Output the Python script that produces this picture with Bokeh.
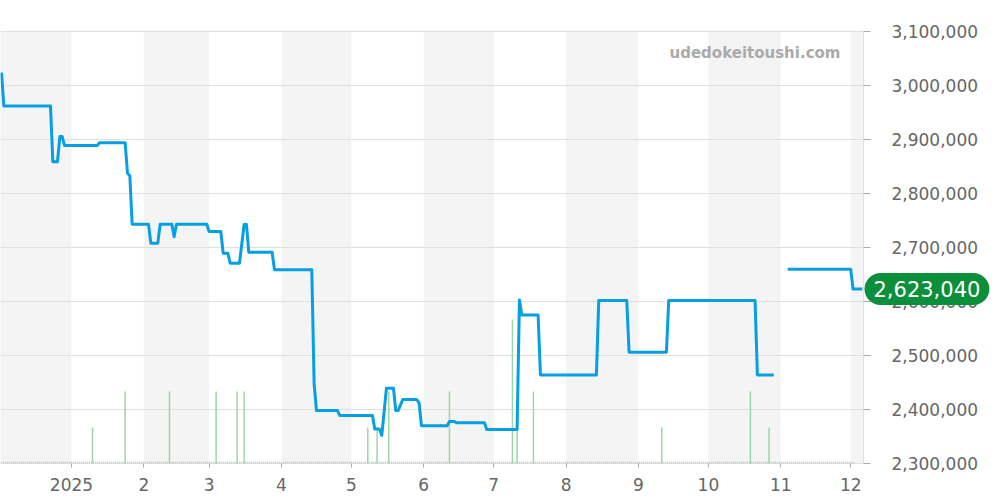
import pandas as pd
from bokeh.plotting import figure
from bokeh.models import Range1d, FixedTicker, NumeralTickFormatter, BoxAnnotation, Label, ColumnDataSource
from bokeh.embed import file_html
from bokeh.resources import INLINE

# ---------------- data ----------------
price_dates = [
    "2024-12-02", "2024-12-03", "2024-12-23", "2024-12-24", "2024-12-26", "2024-12-27",
    "2024-12-28", "2024-12-29", "2025-01-12", "2025-01-13", "2025-01-24", "2025-01-25",
    "2025-01-26", "2025-01-27", "2025-02-03", "2025-02-04", "2025-02-07", "2025-02-08",
    "2025-02-13", "2025-02-14", "2025-02-15", "2025-02-28", "2025-03-01", "2025-03-06",
    "2025-03-07", "2025-03-09", "2025-03-10", "2025-03-14", "2025-03-16", "2025-03-17",
    "2025-03-18", "2025-03-28", "2025-03-29", "2025-04-14", "2025-04-15", "2025-04-16",
    "2025-04-25", "2025-04-26", "2025-05-10", "2025-05-11", "2025-05-13", "2025-05-14",
    "2025-05-16", "2025-05-19", "2025-05-20", "2025-05-21", "2025-05-23", "2025-05-29",
    "2025-05-30", "2025-05-31", "2025-06-11", "2025-06-12", "2025-06-14", "2025-06-15",
    "2025-06-27", "2025-06-28", "2025-07-11", "2025-07-12", "2025-07-13", "2025-07-20",
    "2025-07-21", "2025-08-14", "2025-08-15", "2025-08-27", "2025-08-28", "2025-09-13",
    "2025-09-14", "2025-10-21", "2025-10-22", "2025-10-29", "2025-11-01", "2025-11-04",
    "2025-12-01", "2025-12-02", "2025-12-06",
]
price_values = [
    3024000, 2962000, 2962000, 2859000, 2859000, 2905500,
    2905500, 2889000, 2889000, 2894000, 2894000, 2837500,
    2833000, 2743000, 2743000, 2708000, 2708000, 2743000,
    2743000, 2720000, 2743000, 2743000, 2729500, 2729500,
    2689500, 2689500, 2671000, 2671000, 2742500, 2742500,
    2691000, 2691000, 2659000, 2659000, 2448000, 2398000,
    2398000, 2389000, 2389000, 2364000, 2364000, 2352000,
    2439500, 2439500, 2398000, 2398000, 2418500, 2418500,
    2412000, 2370000, 2370000, 2378000, 2378000, 2375500,
    2375500, 2363000, 2363000, 2603000, 2575000, 2575000,
    2464000, 2464000, 2602000, 2602000, 2506000, 2506000,
    2602000, 2602000, 2464000, 2464000, float("nan"), 2659500,
    2659500, 2623040, 2623040,
]

volume_dates = [
    "2025-01-10", "2025-01-24", "2025-02-12", "2025-03-04", "2025-03-13", "2025-03-16",
    "2025-05-08", "2025-05-12", "2025-05-17", "2025-06-12", "2025-07-09", "2025-07-11",
    "2025-07-18", "2025-09-11", "2025-10-19", "2025-10-27",
]
volume_values = [1, 2, 2, 2, 2, 2, 1, 1, 2, 2, 4, 1, 2, 1, 2, 1]

month_ticks = ["2025-01-01", "2025-02-01", "2025-03-01", "2025-04-01", "2025-05-01",
               "2025-06-01", "2025-07-01", "2025-08-01", "2025-09-01", "2025-10-01",
               "2025-11-01", "2025-12-01"]
month_labels = ["2025", "2", "3", "4", "5", "6", "7", "8", "9", "10", "11", "12"]
shaded_months = [("2024-12-01", "2025-01-01"), ("2025-02-01", "2025-03-01"),
                 ("2025-04-01", "2025-05-01"), ("2025-06-01", "2025-07-01"),
                 ("2025-08-01", "2025-09-01"), ("2025-10-01", "2025-11-01"),
                 ("2025-12-01", "2026-01-01")]
y_ticks = [2300000, 2400000, 2500000, 2600000, 2700000, 2800000, 2900000, 3000000, 3100000]
watermark = "udedokeitoushi.com"


def ms(s):
    return pd.Timestamp(s).timestamp() * 1000.0


DAY = 86400000.0
JAN1 = ms("2025-01-01")
x_start = JAN1 - 30.43 * DAY       # left edge of the plotting area
x_axis_pos = JAN1 + 339.48 * DAY   # where the price axis sits
x_end = JAN1 + 398.2 * DAY         # right edge of the canvas

# vertical layout: price band spans 432 px, 31 px above it and 37 px below
Y0, Y1 = y_ticks[0], y_ticks[-1]
per_px = (Y1 - Y0) / 432.0
y_lo, y_hi = Y0 - 37 * per_px, Y1 + 31 * per_px
VOL_MAX = 12.0
v_per_px = VOL_MAX / 432.0
v_lo, v_hi = -37 * v_per_px, VOL_MAX + 31 * v_per_px

FONT = "DejaVu Sans"

p = figure(width=1000, height=500, x_axis_type="datetime", y_axis_location="right",
           x_range=Range1d(x_start, x_end), y_range=Range1d(y_lo, y_hi),
           output_backend="svg", toolbar_location=None,
           min_border_left=0, min_border_right=0, min_border_top=0, min_border_bottom=0)
p.outline_line_color = None
p.background_fill_color = "white"
p.border_fill_color = "white"
p.extra_y_ranges = {"vol": Range1d(v_lo, v_hi)}

for a, b in shaded_months:
    p.add_layout(BoxAnnotation(left=ms(a), right=min(ms(b), x_axis_pos), bottom=Y0, top=Y1,
                               fill_color="#f4f4f4", fill_alpha=1.0, line_color=None,
                               level="image"))

p.xgrid.visible = False
p.ygrid.visible = False
p.segment(x0=[x_start] * len(y_ticks), y0=y_ticks, x1=[x_axis_pos] * len(y_ticks), y1=y_ticks,
          line_color="#e0e0e0", line_width=1, level="underlay")

# axes
xa = p.xaxis[0]
xa.fixed_location = Y0
xa.ticker = FixedTicker(ticks=[ms(t) for t in month_ticks])
xa.major_label_overrides = {ms(t): lab for t, lab in zip(month_ticks, month_labels)}
xa.bounds = (x_start, x_axis_pos)
xa.minor_tick_line_color = None
xa.major_tick_out = 4
xa.major_tick_in = 0
xa.major_tick_line_color = "#aaaaaa"
xa.axis_line_color = None
xa.major_label_standoff = 10
xa.major_label_text_font = FONT
xa.major_label_text_font_size = "17px"
xa.major_label_text_color = "#666666"

ya = p.yaxis[0]
ya.fixed_location = x_axis_pos
ya.bounds = (Y0, Y1)
ya.ticker = FixedTicker(ticks=y_ticks)
ya.formatter = NumeralTickFormatter(format="0,0")
ya.minor_tick_line_color = None
ya.major_tick_out = 7
ya.major_tick_in = 0
ya.major_tick_line_color = "#aaaaaa"
ya.axis_line_color = "#e0e0e0"
ya.major_label_standoff = 21
ya.major_label_text_font = FONT
ya.major_label_text_font_size = "17px"
ya.major_label_text_color = "#666666"

# volume
vol_x = [ms(d) for d in volume_dates]
p.segment(x0=vol_x, y0=[0] * len(vol_x), x1=vol_x, y1=volume_values, y_range_name="vol",
          line_color="#9bd6a6", line_width=1.5)
p.line(x=[ms("2024-12-01"), ms("2025-12-03")], y=[0.03, 0.03], y_range_name="vol",
       line_color="#9bd6a6", line_width=1.5, line_dash="1 1")

# price
src = ColumnDataSource(dict(x=[ms(d) for d in price_dates], y=price_values))
p.line("x", "y", source=src, line_color="#069fe4", line_width=3, line_join="round")

# watermark
p.add_layout(Label(x=JAN1 + 329.6 * DAY, y=3059800, text=watermark,
                   text_align="right", text_baseline="middle", text_font=FONT,
                   text_font_style="bold", text_font_size="15px", text_color="#aaaaaa"))

# last value badge
last = price_values[-1]
p.add_layout(Label(x=x_axis_pos, y=last, x_offset=1, text=f"{int(last):,}",
                   text_align="left", text_baseline="middle", text_font=FONT,
                   text_font_size="21px", text_color="white",
                   background_fill_color="#0b8f3b", background_fill_alpha=1.0,
                   border_radius=17, padding=dict(left=9, right=9, top=8, bottom=8)))

open("out.html", "w").write(file_html(p, INLINE))
